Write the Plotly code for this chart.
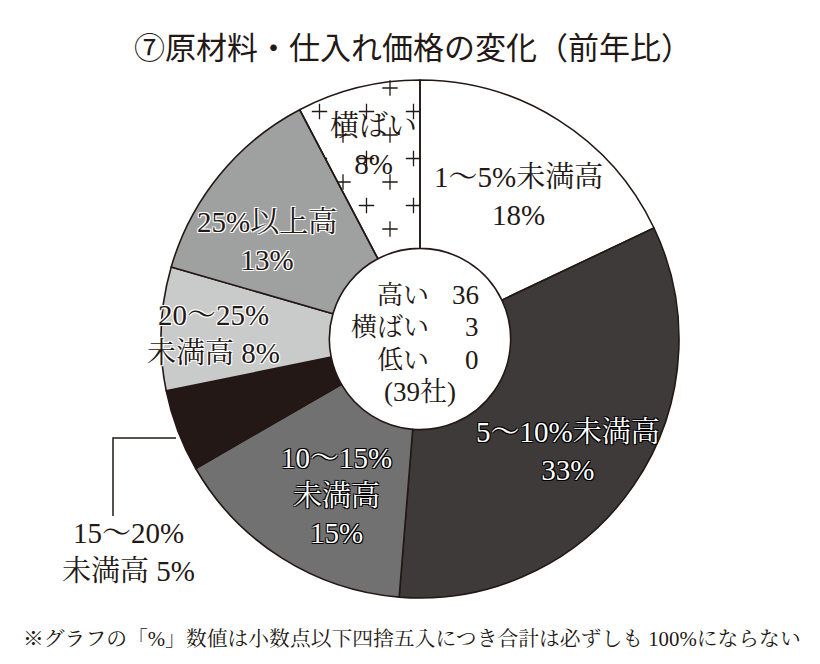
import math
import plotly.graph_objects as go

# =============================================================================
# Data
# =============================================================================
title = "⑦原材料・仕入れ価格の変化（前年比）"
categories = ["1～5%未満高", "5～10%未満高", "10～15%未満高", "15～20%未満高",
              "20～25%未満高", "25%以上高", "横ばい"]
companies = [7, 13, 6, 2, 3, 5, 3]          # 社数, clockwise from 12 o'clock
summary_names = ["高い", "横ばい", "低い"]
summary_values = [36, 3, 0]
total_label = "(39社)"
note = "※グラフの「%」数値は小数点以下四捨五入につき合計は必ずしも 100%にならない"

# =============================================================================
# Styles
# =============================================================================
PAGE_W, PAGE_H = 820, 664
BODY = 8                            # default <body> margin of the html page
FW, FH = PAGE_W - BODY, PAGE_H - BODY
CX, CY, R = 420, 339, 259           # pie centre / radius in page px (from top)
HOLE = 0.35
INK = "#231815"
SERIF = "Liberation Serif, 'Noto Serif CJK JP', 'Noto Sans CJK JP', serif"
SANS = "'Noto Sans CJK JP', 'Noto Sans', sans-serif"
colors = ["#ffffff", "#3e3a39", "#727171", INK, "#c9caca", "#9fa0a0", "rgba(0,0,0,0)"]

OUT_BLACK = "-1px -1px 0 #000, 1px -1px 0 #000, -1px 1px 0 #000, 1px 1px 0 #000"
OUT_WHITE = "-1px -1px 0 #fff, 1px -1px 0 #fff, -1px 1px 0 #fff, 1px 1px 0 #fff, 0 0 2px #fff"

# label layout: (x px, y px, line format, text colour, outline)
label_pos = [
    (518, 196, "{c}<br>{p}", INK, "none"),
    (568, 451, "{c}<br>{p}", "white", OUT_BLACK),
    (336, 495, "{a}<br>{b}<br>{p}", "white", OUT_BLACK),
    (128, 552, "{a}<br>{b} {p}", INK, "none"),
    (213, 334, "{a}<br>{b} {p}", INK, OUT_WHITE),
    (267, 241, "{c}<br>{p}", INK, OUT_WHITE),
    (373, 145, "{c}<br>{p}", INK, "none"),
]


def ypx(y):
    return PAGE_H - y


total = sum(companies)

fig = go.Figure()

# --- "+" texture of the 横ばい slice (lies under a transparent slice) ---
start = sum(companies[:-1]) / total * 360
end = 360.0
cross_x, cross_y = [], []
for i in range(-2, 12):
    y = 88 + 23.5 * i
    off = 343 if i % 2 == 0 else 319.5
    for k in range(-4, 5):
        x = off + 47 * k
        dx, dy = x - CX, CY - y
        r = math.hypot(dx, dy)
        ang = math.degrees(math.atan2(dx, dy)) % 360
        if r < R * HOLE + 6 or r > R - 6:
            continue
        if start - 4 <= ang <= end + 0.1 or ang < 2:
            cross_x.append(x)
            cross_y.append(ypx(y))

fig.add_trace(go.Scatter(x=cross_x, y=cross_y, mode="markers",
                         marker=dict(symbol="cross-thin", size=11,
                                     line=dict(color=INK, width=1.3)),
                         hoverinfo="skip", showlegend=False))

fig.add_trace(go.Pie(
    labels=categories, values=companies, sort=False, direction="clockwise",
    rotation=0, hole=HOLE, textinfo="none", hoverinfo="label+percent",
    marker=dict(colors=colors, line=dict(color=INK, width=1.6)),
    domain=dict(x=[(CX - R - BODY) / FW, (CX + R - BODY) / FW],
                y=[(PAGE_H - CY - R) / FH, (PAGE_H - CY + R) / FH]),
    showlegend=False,
))

annotations = []
for c, v, (x, y, fmt, col, sh) in zip(categories, companies, label_pos):
    p = "%d%%" % round(100 * v / total)
    a, b = (c.split("%", 1)[0] + "%", c.split("%", 1)[1]) if "未満" in c else (c, "")
    annotations.append(dict(x=x, y=ypx(y), text=fmt.format(c=c, a=a, b=b, p=p),
                            showarrow=False, xanchor="center", yanchor="middle",
                            font=dict(family=SERIF, size=29, color=col, shadow=sh)))

# centre summary
rows_y = [295, 327, 360]
for name, val, y in zip(summary_names, summary_values, rows_y):
    annotations.append(dict(x=431, y=ypx(y), text=name, showarrow=False, xanchor="right",
                            yanchor="middle", font=dict(family=SERIF, size=26, color=INK)))
    annotations.append(dict(x=481, y=ypx(y), text=str(val), showarrow=False, xanchor="right",
                            yanchor="middle", font=dict(family=SERIF, size=27, color=INK)))
annotations.append(dict(x=420, y=ypx(392), text=total_label, showarrow=False,
                        xanchor="center", yanchor="middle",
                        font=dict(family=SERIF, size=27, color=INK)))

annotations.append(dict(x=413, y=ypx(45), text=title, showarrow=False, xanchor="center",
                        yanchor="middle", font=dict(family=SANS, size=31, color=INK)))
annotations.append(dict(x=412, y=ypx(638), text=note, showarrow=False, xanchor="center",
                        yanchor="middle", font=dict(family=SERIF, size=20.8, color=INK)))

# leader line for the small 15～20% slice
leader = dict(type="path", xref="x", yref="y", layer="below",
              path="M 113 %s L 113 %s L 176 %s" % (ypx(516), ypx(438), ypx(438)),
              line=dict(color=INK, width=1.5))

fig.update_layout(
    width=FW, height=FH, margin=dict(l=0, r=0, t=0, b=0),
    paper_bgcolor="white", plot_bgcolor="white",
    xaxis=dict(range=[BODY, PAGE_W], visible=False, fixedrange=True, domain=[0, 1]),
    yaxis=dict(range=[0, FH], visible=False, fixedrange=True, domain=[0, 1]),
    annotations=annotations, shapes=[leader],
)

fig.write_html("out.html")
